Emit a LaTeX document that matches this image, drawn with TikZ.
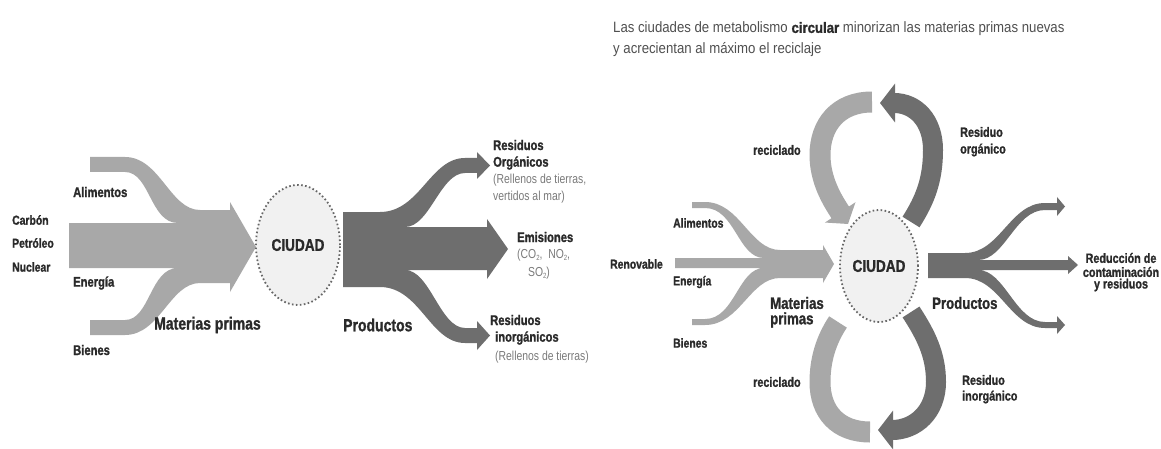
\documentclass[tikz,border=0pt]{standalone}
\usepackage{fontspec}
\usetikzlibrary{arrows.meta,shapes.geometric}
\newfontfamily\cnd[FakeStretch=0.8, BoldFeatures={FakeBold=1.2}]{Liberation Sans}
\newfontfamily\cndt[FakeStretch=0.88, BoldFeatures={FakeBold=1.2}]{Liberation Sans}
\definecolor{lightar}{HTML}{A8A8A8}
\definecolor{darkar}{HTML}{6E6E6E}
\definecolor{txt}{HTML}{2A2A2A}
\definecolor{notegray}{HTML}{7A7A7A}
\definecolor{titlegray}{HTML}{505050}
\definecolor{cityfill}{HTML}{F1F1F1}
\definecolor{dotc}{HTML}{666666}
\newcommand\subtwo{\raisebox{-0.3ex}{\fontsize{7.5}{8}\selectfont 2}}
\tikzset{
  lblL/.style={font=\cnd\bfseries\fontsize{14}{15}\selectfont, text=txt, inner sep=0pt, anchor=west},
  lblR/.style={font=\cnd\bfseries\fontsize{13}{14}\selectfont, text=txt, inner sep=0pt, anchor=west},
  bigL/.style={font=\cnd\bfseries\fontsize{17.5}{19}\selectfont, text=txt, inner sep=0pt, anchor=west},
  bigR/.style={font=\cnd\bfseries\fontsize{16.5}{18}\selectfont, text=txt, inner sep=0pt, anchor=west},
  note/.style={font=\cnd\fontsize{13}{14}\selectfont, text=notegray, inner sep=0pt, anchor=west},
  titletext/.style={font=\cndt\fontsize{15}{17}\selectfont, text=titlegray, inner sep=0pt, anchor=west},
  city/.style={ellipse, draw=dotc, line width=1.8pt, dash pattern=on 1.6pt off 2.4pt,
    fill=cityfill, inner sep=0pt, font=\cnd\bfseries\fontsize{17}{18}\selectfont, text=txt},
  lightfill/.style={fill=lightar, draw=none},
  darkfill/.style={fill=darkar, draw=none},
  loopL/.style={draw=lightar, line width=21pt},
  loopD/.style={draw=darkar, line width=20pt},
  headD/.style={-{Triangle[width=38pt,length=15pt]}},
  headL/.style={-{Triangle[width=36pt,length=14pt]}},
}
\begin{document}
\begin{tikzpicture}[x=1pt,y=-1pt]
\useasboundingbox[fill=white] (0,0) rectangle (1161,449);

% ================= LEFT DIAGRAM =================
% input arrow (materias primas)
\path[lightfill] (90,157) -- (125,157) .. controls (160,157) and (170,210) .. (200,210)
  -- (230,210) -- (230,202) -- (256,247) -- (230,292) -- (230,283) -- (200,283)
  .. controls (170,283) and (160,335) .. (125,335) -- (90,335) -- (90,320) -- (125,320)
  .. controls (150,320) and (150,268) .. (178,268) -- (69,268) -- (69,223) -- (178,223)
  .. controls (150,223) and (150,172) .. (125,172) -- (90,172) -- cycle;
% output arrow (productos)
\path[darkfill] (343,212) -- (380,212) .. controls (420,212) and (430,158) .. (465,158)
  -- (477,158) -- (477,152) -- (490,165.5) -- (477,179) -- (477,173) -- (465,173)
  .. controls (440,173) and (430,227) .. (405,227) -- (487,227) -- (487,219) -- (508,249)
  -- (487,279) -- (487,270) -- (405,270) .. controls (430,270) and (440,328) .. (465,328)
  -- (477,328) -- (477,321) -- (490,335.5) -- (477,350) -- (477,343) -- (465,343)
  .. controls (430,343) and (420,287) .. (380,287) -- (343,287) -- cycle;

\node[city, minimum width=84pt, minimum height=120pt] (cityL) at (298,245) {CIUDAD};

\node[lblL, font=\cnd\bfseries\fontsize{13}{14}\selectfont] (carbon) at (12,220) {Carbón};
\node[lblL, font=\cnd\bfseries\fontsize{13}{14}\selectfont] (petroleo) at (12,243) {Petróleo};
\node[lblL, font=\cnd\bfseries\fontsize{13}{14}\selectfont] (nuclear) at (12,267) {Nuclear};
\node[lblL] (alimL) at (73,192) {Alimentos};
\node[lblL] (energL) at (73,283) {Energía};
\node[lblL] (bienL) at (73,350) {Bienes};
\node[bigL] (matL) at (154,325) {Materias primas};
\node[bigL] (prodL) at (343,325) {Productos};

\node[lblL] (resorg1) at (493,145) {Residuos};
\node[lblL] (resorg2) at (493,163) {Orgánicos};
\node[note] (resorg3) at (493,180) {(Rellenos de tierras,};
\node[note] (resorg4) at (493,197) {vertidos al mar)};
\node[lblL] (emis1) at (517,237) {Emisiones};
\node[note] (emis2) at (517,255) {(CO\subtwo,\ \ NO\subtwo,};
\node[note, anchor=center] (emis3) at (539,273) {SO\subtwo)};
\node[lblL] (resin1) at (490,320) {Residuos};
\node[lblL] (resin2) at (495,338) {inorgánicos};
\node[note] (resin3) at (495,357) {(Rellenos de tierras)};

% ================= RIGHT DIAGRAM =================
\node[titletext] (title1) at (613,29) {Las ciudades de metabolismo {\bfseries\color{txt}circular} minorizan las materias primas nuevas};
\node[titletext] (title2) at (613,50) {y acrecientan al máximo el reciclaje};

% input arrow
\path[lightfill] (692,202) -- (705,202) .. controls (740,202) and (750,250) .. (780,250)
  -- (823,250) -- (823,245) -- (834,264) -- (823,283) -- (823,278) -- (780,278)
  .. controls (750,278) and (740,325) .. (705,325) -- (692,325) -- (692,319) -- (705,319)
  .. controls (735,319) and (738,268) .. (764,268) -- (675,268) -- (675,258) -- (764,258)
  .. controls (738,258) and (735,208) .. (705,208) -- (692,208) -- cycle;
% output arrow
\path[darkfill] (928,253) -- (965,253) .. controls (1000,253) and (1010,203) .. (1045,203)
  -- (1057,203) -- (1057,197) -- (1065,206.5) -- (1057,216) -- (1057,210) -- (1045,210)
  .. controls (1015,210) and (1005,260) .. (978,260) -- (1068,260) -- (1068,256)
  -- (1078,265) -- (1068,274) -- (1068,270) -- (978,270) .. controls (1005,270) and (1015,322) .. (1045,322)
  -- (1057,322) -- (1057,316) -- (1065,325) -- (1057,334) -- (1057,328) -- (1045,328)
  .. controls (1010,328) and (1000,278) .. (965,278) -- (928,278) -- cycle;

\node[city, minimum width=78pt, minimum height=112pt] (cityR) at (879,266) {CIUDAD};

% recycling loops
\coordinate (t1s) at (872,102);
\coordinate (t1e) at (848,224);
\draw[loopL, headL] (t1s) .. controls (838,102) and (820,125) .. (820,155)
  .. controls (820,180) and (832,200) .. (t1e);
\coordinate (t2s) at (911,222);
\coordinate (t2e) at (880,103);
\draw[loopD, headD] (t2s) .. controls (925,200) and (933,180) .. (933,150)
  .. controls (933,120) and (915,103) .. (t2e);
\coordinate (b1s) at (838,322);
\coordinate (b1e) at (870,432);
\draw[loopL] (b1s) .. controls (826,340) and (820,360) .. (820,382)
  .. controls (820,412) and (838,432) .. (b1e);
\coordinate (b2s) at (911,312);
\coordinate (b2e) at (878,430);
\draw[loopD, headD] (b2s) .. controls (926,335) and (936,355) .. (936,382)
  .. controls (936,412) and (915,430) .. (b2e);

\node[lblR] (renov) at (610,264) {Renovable};
\node[lblR] (alimR) at (673,223) {Alimentos};
\node[lblR] (energR) at (673,282) {Energía};
\node[lblR] (bienR) at (673,343) {Bienes};
\node[bigR] (matR1) at (770,303) {Materias};
\node[bigR] (matR2) at (770,320) {primas};
\node[bigR] (prodR) at (932,303) {Productos};
\node[lblL, font=\cnd\bfseries\fontsize{13.5}{14}\selectfont] (recT) at (753,150) {reciclado};
\node[lblL, font=\cnd\bfseries\fontsize{13.5}{14}\selectfont] (resoT1) at (960,132) {Residuo};
\node[lblL, font=\cnd\bfseries\fontsize{13.5}{14}\selectfont] (resoT2) at (960,150) {orgánico};
\node[lblL, font=\cnd\bfseries\fontsize{13.5}{14}\selectfont] (recB) at (753,382) {reciclado};
\node[lblL, font=\cnd\bfseries\fontsize{13.5}{14}\selectfont] (resoB1) at (962,380) {Residuo};
\node[lblL, font=\cnd\bfseries\fontsize{13.5}{14}\selectfont] (resoB2) at (962,397) {inorgánico};
\node[lblL, anchor=center, font=\cnd\bfseries\fontsize{13.5}{14}\selectfont] (red1) at (1121,258) {Reducción de};
\node[lblL, anchor=center, font=\cnd\bfseries\fontsize{13.5}{14}\selectfont] (red2) at (1121,272) {contaminación};
\node[lblL, anchor=center, font=\cnd\bfseries\fontsize{13.5}{14}\selectfont] (red3) at (1121,285) {y residuos};
\end{tikzpicture}
\end{document}
